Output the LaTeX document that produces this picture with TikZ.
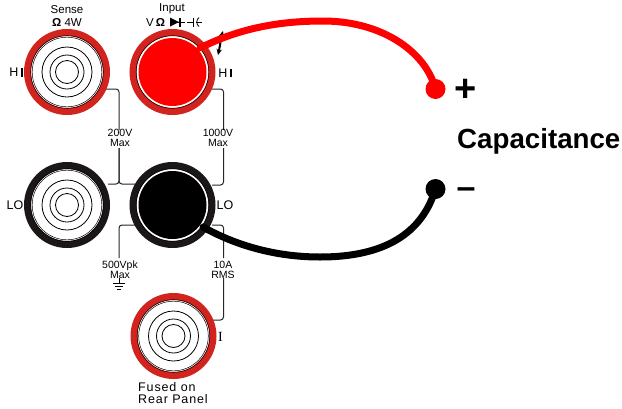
\documentclass[tikz,border=0pt]{standalone}
\usepackage{fontspec}
\setmainfont{Liberation Sans}
\newfontfamily\serifI{Liberation Serif}
\newfontfamily\widesans[LetterSpace=7]{Liberation Sans}
\usetikzlibrary{arrows.meta}
\definecolor{ringred}{HTML}{D2231E}
\definecolor{ringblack}{HTML}{1A1716}
\definecolor{wirered}{HTML}{FF0000}
\tikzset{
  x=1pt,y=-1pt,
  ringo/.style={circle,inner sep=0pt,minimum size=79pt,line width=7pt,fill=white},
  fine/.style={line width=0.8pt,black},
  lead/.style={line width=1pt,black!85,rounded corners=3pt},
  lab/.style={font=\fontsize{10.5}{10}\selectfont,align=center,inner sep=0pt,text=black},
  labb/.style={font=\fontsize{11.5}{12}\selectfont,inner sep=0pt,text=black},
  side/.style={font=\fontsize{12.5}{13}\selectfont,inner sep=0pt,text=black},
  bigtext/.style={font=\bfseries\fontsize{27.7}{30}\selectfont,inner sep=0pt},
  wire/.style={line width=7pt,line cap=round},
  dotn/.style={circle,inner sep=0pt,minimum size=20pt},
}
\newcommand{\jackrings}[1]{%
  \foreach \r in {36.3,34.8}{\draw[line width=0.5pt,black] (#1) circle (\r);}
  \foreach \r in {25,17,11.5}{\draw[fine] (#1) circle (\r);}
}
\newcommand{\hibar}{H\hspace{2.2pt}\rule{2pt}{8.8pt}}
\begin{document}
\begin{tikzpicture}
\useasboundingbox (0,0) rectangle (622,408);
% leads
\draw[lead] (105,89) -- (119,89) -- (119,130);
\draw[lead] (119,148) -- (119,184) -- (108,184);
\draw[lead] (119,148) -- (119,184) -- (135,184);
\draw[lead] (212,89) -- (223.5,89) -- (223.5,130);
\draw[lead] (223.5,148) -- (223.5,185) -- (212,185);
\draw[lead] (135,225) -- (119,225) -- (119,258);
\draw[lead] (212,225) -- (223.5,225) -- (223.5,258);
\draw[lead] (223.5,278) -- (223.5,320) -- (213,320);
% jacks
\node[ringo,draw=ringred] (shi) at (67,72) {};
\jackrings{shi}
\node[ringo,draw=ringred] (ihi) at (172.5,72) {};
\draw[line width=0.5pt,black] (ihi) circle (36.3);
\fill[wirered] (ihi) circle (34);
\node[ringo,draw=ringblack] (slo) at (67,205) {};
\jackrings{slo}
\node[ringo,draw=ringblack] (ilo) at (172.5,205) {};
\draw[line width=0.5pt,black] (ilo) circle (36.3);
\fill[black] (ilo) circle (34);
\node[ringo,draw=ringred] (fuse) at (173.5,336) {};
\jackrings{fuse}
% labels
\node[labb] (t1) at (67,10) {Sense};
\node[labb] (t1b) at (67,22) {\textbf{Ω} 4W};
\node[labb] (t0) at (172,9) {Input};
\node[labb,anchor=west] (t2) at (146,22.5) {V\,\textbf{Ω}};
\draw[fine] (170,22) -- (185,22);
\fill (170,17.5) -- (170,26.5) -- (179,22) -- cycle;
\draw[line width=1.1pt,black] (180,17.5) -- (180,26.5);
\draw[fine] (187,22) -- (193,22) (193,17.5) -- (193,26.5);
\draw[fine] (202,22) -- (196,22);
\draw[fine] (199,17.5) .. controls (196,20) and (196,24) .. (199,26.5);
\node[side] at (16,72.5) {\hibar};
\node[side] at (225,73) {\hibar};
\node[side] at (15,205) {LO};
\node[side] at (225,205) {LO};
\node[font=\serifI\fontsize{14}{14}\selectfont,inner sep=0pt] at (220.5,337) {I};
\node[lab] at (120,138) {200V\\Max};
\node[lab] at (218,138) {1000V\\Max};
\node[lab] at (120,269.5) {500Vpk\\Max};
\node[lab] at (223,269.5) {10A\\RMS};
\draw[fine] (119,278) -- (119,283) (113,283) -- (125,283) (115,286) -- (123,286) (117,289) -- (121,289);
\node[anchor=west,inner sep=0pt,font=\widesans\fontsize{12.5}{12}\selectfont] at (138,387.5) {Fused on};
\node[anchor=west,inner sep=0pt,font=\widesans\fontsize{12.5}{12}\selectfont] at (138,399.5) {Rear Panel};
% small arrow
\draw[{Stealth[length=6pt,width=5.5pt]}-{Stealth[length=6pt,width=5.5pt]},line width=2pt,black] (223,31) .. controls (221,38) and (220,46) .. (218,55);
% terminals
\node[dotn,fill=wirered] (plus) at (435.5,89) {};
\node[dotn,fill=black] (minus) at (435.5,189) {};
% wires
\draw[wire,wirered] (200,48) .. controls (240,28) and (280,21) .. (323,21) .. controls (380,21) and (425,50) .. (plus.center);
\draw[wire,black] (203,227) .. controls (235,245) and (275,257) .. (320,257) .. controls (375,257) and (420,240) .. (minus.center);
% text
\node[font=\bfseries\fontsize{38}{38}\selectfont,inner sep=0pt] at (466,90) {+};
\node[font=\bfseries\fontsize{34}{34}\selectfont,inner sep=0pt] at (466,193.5) {–};
\node[bigtext,anchor=west] at (457,141) {Capacitance};
\end{tikzpicture}
\end{document}
